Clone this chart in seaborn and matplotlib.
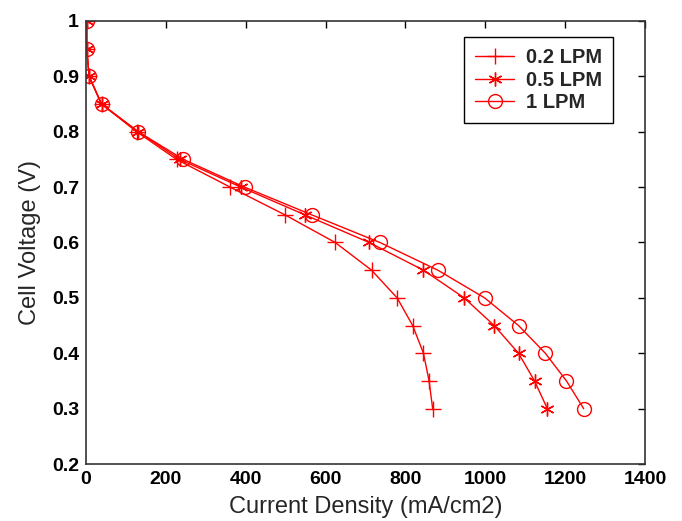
import matplotlib
matplotlib.use("Agg")
import matplotlib.pyplot as plt
import seaborn as sns
import pandas as pd

voltage = [1.0, 0.95, 0.9, 0.85, 0.8, 0.75, 0.7, 0.65, 0.6, 0.55, 0.5, 0.45, 0.4, 0.35, 0.3]
cd_02 = [2, 2, 8, 39, 127, 227, 361, 498, 624, 715, 779, 818, 845, 859, 868]
cd_05 = [2, 2, 8, 39, 131, 235, 388, 548, 709, 845, 947, 1022, 1083, 1123, 1155]
cd_1 = [2, 2, 8, 39, 131, 244, 397, 565, 736, 881, 998, 1083, 1150, 1203, 1246]
labels = ["0.2 LPM", "0.5 LPM", "1 LPM"]
x_ticks = [0, 200, 400, 600, 800, 1000, 1200, 1400]
y_ticks = [0.2, 0.3, 0.4, 0.5, 0.6, 0.7, 0.8, 0.9, 1.0]
y_ticklabels = ["0.2", "0.3", "0.4", "0.5", "0.6", "0.7", "0.8", "0.9", "1"]

sns.set_style("white")
plt.rcParams['font.family'] = ['Liberation Sans', 'DejaVu Sans']

fig = plt.figure(figsize=(6.82, 5.21), dpi=100)
ax = fig.add_axes([0.126, 0.1094, 0.820, 0.8503])

series = [(cd_02, '+', 11), (cd_05, (6, 2, 0), 10), (cd_1, 'o', 10)]
for (xs, mk, ms), lab in zip(series, labels):
    df = pd.DataFrame({"cd": xs, "v": voltage})
    sns.lineplot(data=df, x="cd", y="v", sort=False, estimator=None, ax=ax,
                 color="#ff0000", marker=mk, markersize=ms, markerfacecolor="none",
                 markeredgecolor="#ff0000", markeredgewidth=1.0, linewidth=1.0,
                 label=lab)

ax.set_xlim(0, 1400)
ax.set_ylim(0.2, 1.0)
ax.set_xticks(x_ticks)
ax.set_xticklabels([str(t) for t in x_ticks])
ax.set_yticks(y_ticks)
ax.set_yticklabels(y_ticklabels)
ax.tick_params(direction="in", length=5, width=1, top=True, right=True,
               labelsize=14, colors="black", pad=5)
for t in ax.get_xticklabels() + ax.get_yticklabels():
    t.set_fontweight("bold")
for s in ax.spines.values():
    s.set_color("#333333")
    s.set_linewidth(1.2)
ax.set_xlabel("Current Density (mA/cm2)", fontsize=17, labelpad=6)
ax.set_ylabel("Cell Voltage (V)", fontsize=17, labelpad=8)

leg = ax.legend(loc="upper right", bbox_to_anchor=(613 / 682, 1 - 37 / 521),
                bbox_transform=fig.transFigure, borderaxespad=0, fancybox=False,
                edgecolor="black", framealpha=1, fontsize=14.5, handlelength=1.9,
                borderpad=0.55, labelspacing=0.18, handletextpad=0.6)
leg.get_frame().set_linewidth(1.0)
for t in leg.get_texts():
    t.set_fontweight("bold")

fig.savefig("out.png", dpi=100)
